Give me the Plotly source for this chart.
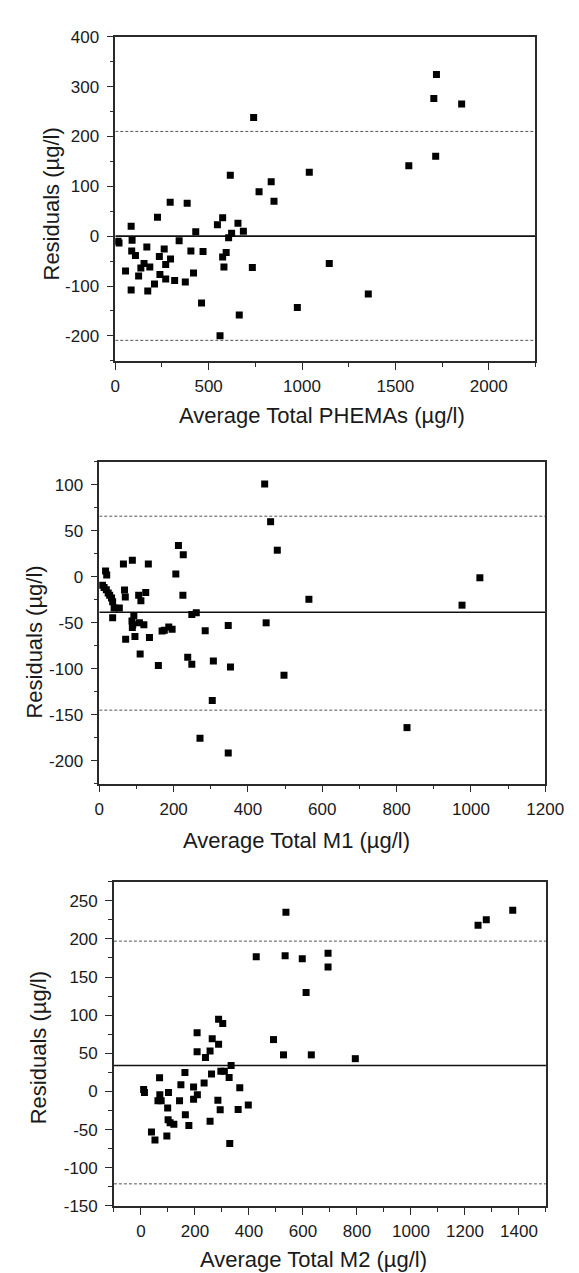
import plotly.graph_objects as go

# ---------------- Data ----------------
# Panel 1: Average Total PHEMAs
phemas_x = [15, 20, 55, 85, 90, 85, 88, 108, 125, 137, 154, 169, 185, 174, 210, 226, 236, 239,
            262, 270, 270, 296, 294, 318, 342, 375, 385, 405, 419, 431, 462, 470, 547, 575, 575,
            582, 594, 616, 607, 623, 561, 657, 686, 664, 734, 741, 770, 835, 850, 975, 1039,
            1146, 1355, 1572, 1716, 1720, 1706, 1855]
phemas_y = [-10, -14, -70, 20, -8, -108, -30, -39, -80, -64, -55, -22, -62, -110, -96, 38, -41, -77,
            -26, -57, -86, -46, 68, -89, -9, -92, 66, -30, -74, 9, -134, -31, 23, 37, -42,
            -62, -33, 122, -3, 6, -200, 26, 10, -158, -63, 238, 89, 109, 70, -143, 128,
            -55, -116, 141, 160, 324, 276, 265]
phemas_mean = 0
phemas_upper = 210
phemas_lower = -209

# Panel 2: Average Total M1
m1_x = [8.6, 13, 17, 20, 19, 24, 28, 33, 36, 40, 36, 54, 65, 68, 70, 71, 89, 93, 88, 89, 90, 96,
        106, 112, 108, 120, 125, 132, 110, 135, 159, 169, 175, 187, 196, 206, 213, 226, 225, 238,
        249, 249, 261, 271, 285, 304, 307, 347, 347, 353, 445, 449, 461, 479, 497, 564, 976,
        1024, 828]
m1_y = [-9, -11.5, 6.5, 2, -14, -17.6, -20, -23, -27, -34, -44.5, -34, 14, -14.4, -22, -68, 18,
        -42, -48, -55, -52, -65, -20, -26, -50, -52, -17, 14, -84, -66, -96.5, -59, -58, -54.5,
        -57, 3, 34, 24, -20, -87.5, -41, -95, -39, -175.5, -58.5, -134.5, -91.5, -53, -191.6,
        -98, 101, -50, 60, 29, -107, -24.4, -30.8, -1, -164]
m1_mean = -38.5
m1_upper = 66
m1_lower = -145

# Panel 3: Average Total M2
m2_x = [10, 13, 39, 52, 69, 70, 63, 75, 96, 99, 100.6, 102, 108, 122, 143, 148, 163, 164.5,
        177.5, 195, 195, 209, 208, 208, 234, 239, 256, 256, 264, 261.5, 287.6, 287.6, 285, 293.5,
        296, 303, 309, 326.6, 329, 334, 366, 360, 397.6, 427, 491, 528, 534, 537, 597.5, 693,
        693, 611.7, 631, 794, 1248.5, 1279, 1377]
m2_y = [2.6, -1.3, -53, -63.6, 18, -4.3, -12, -12, -58.4, -21.5, -37, -1.3, -41, -43, -12, 9,
        25, -30.5, -44.7, 6, -10, -4.3, 77, 52, 11, 44.7, 53, -39, 69, 23, 94.5, 62, -11.6, -24,
        26.6, 89, 26.6, 18.5, -68, 34, 5, -23.6, -17.6, 176.5, 68, 48, 178, 235, 174, 181,
        163, 129.8, 48, 43, 217.8, 225, 237.6]
m2_mean = 34
m2_upper = 197
m2_lower = -121

# Tick labels
p1_xticks = [0, 500, 1000, 1500, 2000]
p1_xlabels = ["0", "500", "1000", "1500", "2000"]
p1_yticks = [-200, -100, 0, 100, 200, 300, 400]
p1_ylabels = ["-200", "-100", "0", "100", "200", "300", "400"]

p2_xticks = [0, 200, 400, 600, 800, 1000, 1200]
p2_xlabels = ["0", "200", "400", "600", "800", "1000", "1200"]
p2_yticks = [-200, -150, -100, -50, 0, 50, 100]
p2_ylabels = ["-200", "-150", "-100", "-50", "0", "50", "100"]

p3_xticks = [0, 200, 400, 600, 800, 1000, 1200, 1400]
p3_xlabels = ["0", "200", "400", "600", "800", "1000", "1200", "1400"]
p3_yticks = [-150, -100, -50, 0, 50, 100, 150, 200, 250]
p3_ylabels = ["-150", "-100", "-50", "0", "50", "100", "150", "200", "250"]

x_titles = ["Average Total PHEMAs (µg/l)", "Average Total M1 (µg/l)", "Average Total M2 (µg/l)"]
y_title = "Residuals (µg/l)"

# ---------------- Figure ----------------
W, H = 579, 1273
FONT = "Liberation Sans, Arial, Helvetica, sans-serif"
AX = "#2a2a2a"

panels = [
    dict(x=phemas_x, y=phemas_y, mean=phemas_mean, up=phemas_upper, lo=phemas_lower,
         xr=[0, 2250], yr=[-250, 400], xt=p1_xticks, xl=p1_xlabels, yt=p1_yticks, yl=p1_ylabels,
         xminor=250, yminor=50, px=(106.7, 545), py=(20, 349),
         xtitle=(322, 405), ytitle=(40, 190)),
    dict(x=m1_x, y=m1_y, mean=m1_mean, up=m1_upper, lo=m1_lower,
         xr=[0, 1200], yr=[-225, 125], xt=p2_xticks, xl=p2_xlabels, yt=p2_yticks, yl=p2_ylabels,
         xminor=100, yminor=25, px=(90, 555.3), py=(451.7, 778.3),
         xtitle=(296, 836), ytitle=(22, 635)),
    dict(x=m2_x, y=m2_y, mean=m2_mean, up=m2_upper, lo=m2_lower,
         xr=[-100, 1500], yr=[-150, 275], xt=p3_xticks, xl=p3_xlabels, yt=p3_yticks, yl=p3_ylabels,
         xminor=100, yminor=25, px=(105.3, 556), py=(877.7, 1207),
         xtitle=(314, 1261), ytitle=(27, 1046)),
]

fig = go.Figure()
layout = dict(width=W, height=H, margin=dict(l=0, r=0, t=0, b=0),
              paper_bgcolor="white", plot_bgcolor="white", showlegend=False,
              font=dict(family=FONT, color="#1a1a1a"))
annotations = []
shapes = []

for i, p in enumerate(panels, start=1):
    xa = "x" if i == 1 else f"x{i}"
    ya = "y" if i == 1 else f"y{i}"
    xkey = "xaxis" if i == 1 else f"xaxis{i}"
    ykey = "yaxis" if i == 1 else f"yaxis{i}"

    # limit lines
    for val, dash, col, wid in [(p["up"], "3px,2px", "#555555", 1),
                                (p["lo"], "3px,2px", "#555555", 1),
                                (p["mean"], "solid", "#111111", 1.6)]:
        fig.add_trace(go.Scatter(x=p["xr"], y=[val, val], mode="lines", xaxis=xa, yaxis=ya,
                                 line=dict(color=col, width=wid, dash=dash),
                                 hoverinfo="skip", cliponaxis=True))

    fig.add_trace(go.Scatter(x=p["x"], y=p["y"], mode="markers", xaxis=xa, yaxis=ya,
                             marker=dict(symbol="square", size=7, color="black",
                                         line=dict(width=0))))

    layout[xkey] = dict(domain=[p["px"][0] / W, p["px"][1] / W], range=p["xr"], anchor=ya,
                        tickmode="array", tickvals=p["xt"], ticktext=p["xl"],
                        ticks="outside", ticklen=7, tickwidth=1.3, tickcolor=AX,
                        showline=True, linecolor=AX, linewidth=1.5, mirror=True,
                        showgrid=False, zeroline=False,
                        tickfont=dict(size=17, family=FONT, color="#1a1a1a"),
                        ticklabelstandoff=2,
                        minor=dict(tickmode="linear", tick0=0, dtick=p["xminor"], ticks="outside",
                                   ticklen=4, tickwidth=1.2, tickcolor=AX, showgrid=False))
    layout[ykey] = dict(domain=[1 - p["py"][1] / H, 1 - p["py"][0] / H], range=p["yr"], anchor=xa,
                        tickmode="array", tickvals=p["yt"], ticktext=p["yl"],
                        ticks="outside", ticklen=7, tickwidth=1.3, tickcolor=AX,
                        showline=True, linecolor=AX, linewidth=1.5, mirror=True,
                        showgrid=False, zeroline=False,
                        tickfont=dict(size=17, family=FONT, color="#1a1a1a"),
                        ticklabelstandoff=4,
                        minor=dict(tickmode="linear", tick0=0, dtick=p["yminor"], ticks="outside",
                                   ticklen=4, tickwidth=1.2, tickcolor=AX, showgrid=False))

    annotations.append(dict(text=x_titles[i - 1], xref="paper", yref="paper",
                            x=p["xtitle"][0] / W, y=1 - p["xtitle"][1] / H,
                            xanchor="center", yanchor="middle", showarrow=False,
                            font=dict(size=22, family=FONT, color="#1a1a1a")))
    annotations.append(dict(text=y_title, xref="paper", yref="paper",
                            x=p["ytitle"][0] / W, y=1 - p["ytitle"][1] / H,
                            xanchor="center", yanchor="middle", showarrow=False, textangle=-90,
                            font=dict(size=22, family=FONT, color="#1a1a1a")))

layout["annotations"] = annotations
fig.update_layout(**layout)
fig.write_html("out.html")
